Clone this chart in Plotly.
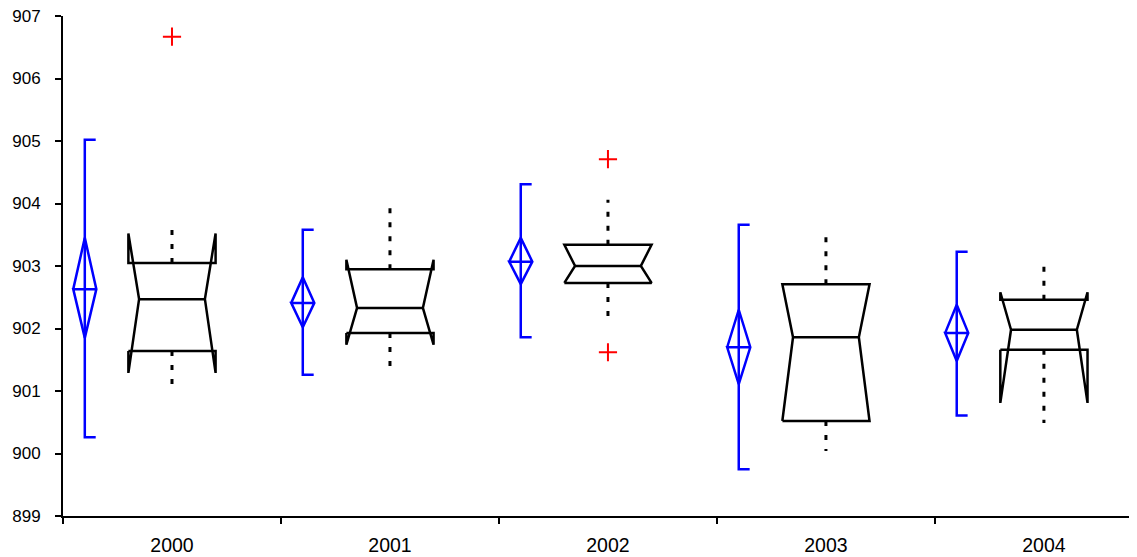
import plotly.graph_objects as go

years = ["2000", "2001", "2002", "2003", "2004"]
means = [902.63, 902.41, 903.07, 901.70, 901.93]
ci_lo = [901.85, 902.02, 902.71, 901.11, 901.48]
ci_hi = [903.45, 902.82, 903.45, 902.30, 902.38]
sd_lo = [900.26, 901.26, 901.86, 899.75, 900.61]
sd_hi = [905.02, 903.58, 904.31, 903.66, 903.23]
q1 = [901.64, 901.93, 902.73, 900.52, 901.66]
median = [902.47, 902.33, 903.00, 901.86, 901.98]
q3 = [903.05, 902.95, 903.34, 902.71, 902.46]
notch_lo = [901.29, 901.74, 902.73, 900.52, 900.81]
notch_hi = [903.52, 903.10, 903.34, 902.71, 902.58]
whisk_lo = [901.08, 901.38, 902.17, 900.04, 900.49]
whisk_hi = [903.58, 903.93, 904.06, 903.50, 903.02]
outlier_x = [0, 2, 2]
outlier_y = [906.67, 904.71, 901.62]

BLUE_OFF = -0.40
DIA_W = 0.053
CAP = 0.05
BOX_W = 0.20
NOTCH_W = 0.151

fig = go.Figure()

# blue: SD bracket + diamond
bx, by = [], []
for i in range(len(years)):
    c = i + BLUE_OFF
    bx += [c + CAP, c, c, c + CAP, None]
    by += [sd_hi[i], sd_hi[i], sd_lo[i], sd_lo[i], None]
    bx += [c - DIA_W, c, c + DIA_W, c, c - DIA_W, c + DIA_W, None]
    by += [means[i], ci_hi[i], means[i], ci_lo[i], means[i], means[i], None]
fig.add_trace(go.Scatter(x=bx, y=by, mode="lines", line=dict(color="#0000ff", width=2.5),
                         hoverinfo="skip", showlegend=False))

# whiskers (dotted)
wx, wy = [], []
for i in range(len(years)):
    wx += [i, i, None, i, i, None]
    wy += [q3[i], whisk_hi[i], None, q1[i], whisk_lo[i], None]
fig.add_trace(go.Scatter(x=wx, y=wy, mode="lines", line=dict(color="black", width=3, dash="5px,9px"),
                         hoverinfo="skip", showlegend=False))

# notched boxes
kx, ky = [], []
for i in range(len(years)):
    L, R = i - BOX_W, i + BOX_W
    iL, iR = i - NOTCH_W, i + NOTCH_W
    kx += [L, L, iL, L, L, R, R, iR, R, R, L, None]
    ky += [q1[i], notch_lo[i], median[i], notch_hi[i], q3[i], q3[i], notch_hi[i], median[i],
           notch_lo[i], q1[i], q1[i], None]
    kx += [iL, iR, None]
    ky += [median[i], median[i], None]
fig.add_trace(go.Scatter(x=kx, y=ky, mode="lines", line=dict(color="black", width=2.5),
                         hoverinfo="skip", showlegend=False))

# outliers
fig.add_trace(go.Scatter(x=outlier_x, y=outlier_y, mode="markers",
                         marker=dict(symbol="cross-thin", size=13, line=dict(color="#ff0000", width=2)),
                         hoverinfo="skip", showlegend=False))

# dummy trace for label axis
fig.add_trace(go.Scatter(x=[0], y=[899], xaxis="x2", mode="markers", marker=dict(opacity=0),
                         hoverinfo="skip", showlegend=False))

fam = "Liberation Sans, Arial, sans-serif"
fig.update_layout(
    width=1129, height=549,
    margin=dict(l=55, r=0, t=8, b=41),
    paper_bgcolor="white", plot_bgcolor="white",
    font=dict(family=fam, size=17, color="black"),
    xaxis=dict(range=[-0.5, 4.427], tickvals=[-0.5, 0.5, 1.5, 2.5, 3.5, 4.5],
               ticktext=["", "", "", "", "", ""], ticks="outside", ticklen=6, tickwidth=2,
               tickcolor="black", showline=True, linecolor="black", linewidth=2,
               showgrid=False, zeroline=False, automargin=False),
    xaxis2=dict(range=[-0.5, 4.427], overlaying="x", side="bottom", tickvals=[0, 1, 2, 3, 4],
                ticktext=years, ticks="", ticklabelstandoff=15, showline=False, showgrid=False,
                zeroline=False, automargin=False, ticklabeloverflow="allow",
                tickfont=dict(family=fam, size=19.5, color="black")),
    yaxis=dict(range=[899, 907], dtick=1, ticks="outside", ticklen=6, tickwidth=2,
               tickcolor="black", showline=True, linecolor="black", linewidth=2,
               showgrid=False, zeroline=False, automargin=False, ticklabelstandoff=11,
               ticklabeloverflow="allow",
               tickfont=dict(family=fam, size=17, color="black")),
)

fig.write_html("out.html")
